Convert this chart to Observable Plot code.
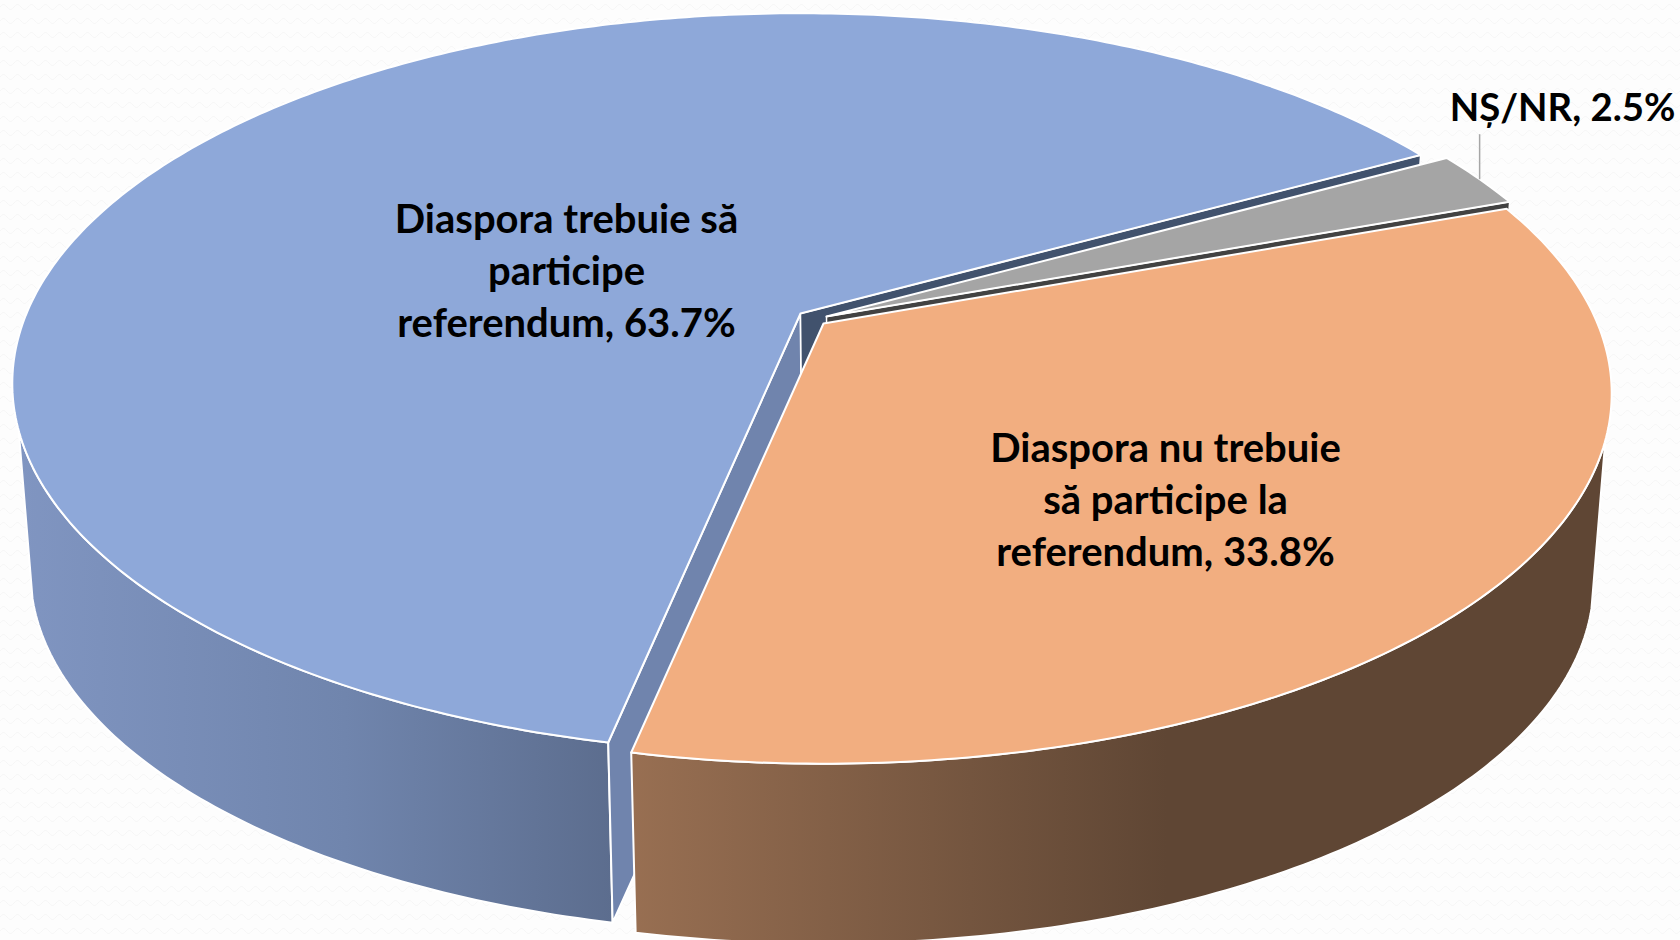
<!DOCTYPE html>
<html>
<head>
<meta charset="utf-8">
<style>
html,body{margin:0;padding:0;width:1680px;height:940px;overflow:hidden;background-color:#fdfdfd;
background-image:url("data:image/svg+xml,%3Csvg xmlns='http://www.w3.org/2000/svg' width='14' height='14'%3E%3Cpath d='M0 7 q3.5 -5 7 0 t7 0' fill='none' stroke='%23f6f6f6' stroke-width='1'/%3E%3C/svg%3E");}
svg{display:block;background:transparent!important}
</style>
<script src="https://cdn.jsdelivr.net/npm/d3@7"></script>
<script src="https://cdn.jsdelivr.net/npm/@observablehq/plot@0.6"></script>
</head>
<body>
<div id="chart"></div>
<script>
// Data, clockwise from the front cut
const categories = ["Diaspora trebuie să participe referendum", "NȘ/NR", "Diaspora nu trebuie să participe la referendum"];
const shares = [63.7, 2.5, 33.8];
const labels = ["Diaspora trebuie să\nparticipe\nreferendum, 63.7%", "NȘ/NR, 2.5%", "Diaspora nu trebuie\nsă participe la\nreferendum, 33.8%"];

// Layout of the perspective disc
const W = 1680, H = 940;
const Rx = 774, Ry = 357, K = 0.189, DROP = 190, SHRINK = 0.977;
const START = 101.68;
const centers = [[800, 313], [826, 316], [823, 323]];
const topFill = ["#8ea8d9", "#a5a5a5", "#f2ae80"];
const labelOffset = [[-234, -45], [736, -211], [342, 174]];
const labelSize = [40, 38.3, 40];

let acc = START;
const arcs = shares.map(s => { const a0 = acc; acc += s * 3.6; return [a0, acc]; });

function pt(t, c, low) {
  const r = t * Math.PI / 180, cs = Math.cos(r), sn = Math.sin(r), w = 1 - K * sn;
  const f = low ? SHRINK : 1, d = low ? DROP : 0;
  return {x: c[0] + f * Rx * cs / w, y: c[1] + d + f * Ry * sn / w};
}
const apex = (c, low) => ({x: c[0] + (low ? 2 : 0), y: c[1] + (low ? DROP : 0)});
const span = (a, b, c, low) => d3.range(a, b, 0.75).concat([b]).map(t => pt(t, c, low));
const close = p => p.concat([p[0]]);

const topFace = i => close([apex(centers[i]), ...span(arcs[i][0], arcs[i][1], centers[i])]);
// the upper and lower rims of a wall end at different angles: the silhouette is a slanted edge
const wall = (a, b, a2, b2, c) => close([...span(a, b, c), ...span(a2, b2, c, true).reverse()]);
const cut = (t, c) => close([apex(c), pt(t, c), pt(t, c, true), apex(c, true)]);

const defs = () => {
  const d = d3.create("svg:defs");
  const grad = (id, stops) => {
    const g = d.append("linearGradient").attr("id", id).attr("x1", 0).attr("x2", 1).attr("y1", 0).attr("y2", 0);
    stops.forEach(([o, col]) => g.append("stop").attr("offset", o).attr("stop-color", col));
  };
  grad("blueWall", [[0, "#8095c1"], [0.55, "#7085ad"], [1, "#5c6d8e"]]);
  grad("orangeWall", [[0, "#986f52"], [0.55, "#5f4634"], [1, "#5f4634"]]);
  return d.node();
};

const poly = (pts, fill, sw = 2) => Plot.line(pts, {x: "x", y: "y", fill, stroke: "#ffffff", strokeWidth: sw, curve: "linear"});

const leadTop = pt((arcs[1][0] + arcs[1][1]) / 2, centers[1]);
const labelRows = labels.map((text, i) => ({text, size: labelSize[i], x: centers[i][0] + labelOffset[i][0], y: centers[i][1] + labelOffset[i][1]}));

const plot = Plot.plot({
  width: W, height: H, margin: 0,
  x: {axis: null, domain: [0, W], range: [0, W]},
  y: {axis: null, domain: [0, H], range: [0, H]},
  style: {background: "transparent"},
  marks: [
    defs,
    poly(wall(arcs[0][0], 162, arcs[0][0], 165, centers[0]), "url(#blueWall)"),
    poly(cut(arcs[0][0], centers[0]), "#7084ad"),
    poly(cut(arcs[0][1], centers[0]), "#41526d", 1.5),
    poly(cut(arcs[1][1], centers[1]), "#424242", 1.5),
    poly(wall(378, arcs[2][1], 375, arcs[2][1], centers[2]), "url(#orangeWall)"),
    ...[0, 1, 2].map(i => poly(topFace(i), topFill[i])),
    Plot.link([leadTop], {x1: "x", x2: "x", y1: "y", y2: d => d.y - 45, stroke: "#a6a6a6", strokeWidth: 1.5}),
    ...labelRows.map(r => Plot.text([r], {
      x: "x", y: "y", text: "text", fill: "#000000", fontSize: r.size, fontWeight: 700,
      fontFamily: "Lato", lineHeight: 1.3, lineAnchor: "middle", textAnchor: "middle"
    }))
  ]
});
document.getElementById("chart").append(plot);
</script>
</body>
</html>
